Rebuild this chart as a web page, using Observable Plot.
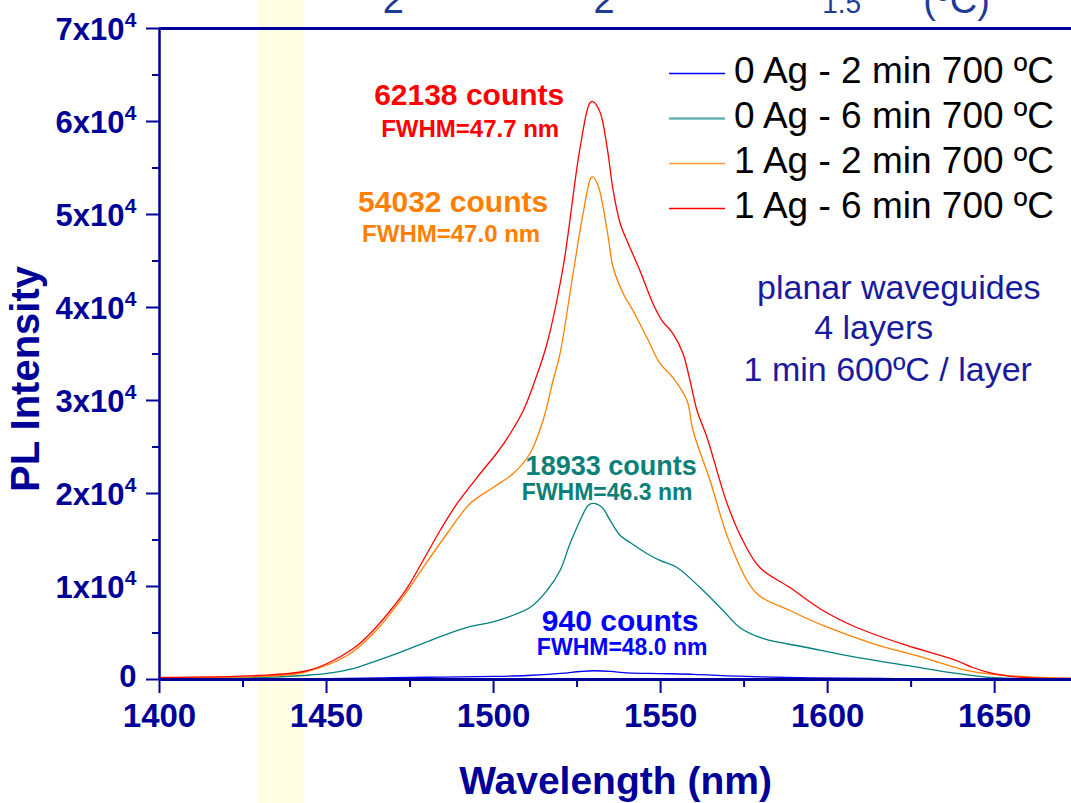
<!DOCTYPE html>
<html>
<head>
<meta charset="utf-8">
<script src="https://cdn.jsdelivr.net/npm/d3@7"></script>
<script src="https://cdn.jsdelivr.net/npm/@observablehq/plot@0.6"></script>
<style>
  html, body { margin: 0; padding: 0; background: #fff; }
  #chart svg { display: block; }
</style>
</head>
<body>
<div id="chart"></div>
<script>
// ---------------- data ----------------
const seriesNames = ["0 Ag - 2 min 700 ºC", "0 Ag - 6 min 700 ºC", "1 Ag - 2 min 700 ºC", "1 Ag - 6 min 700 ºC"];

// 0 Ag - 2 min (blue)
const wl0Ag2 = [1400,1450,1470,1485,1500,1510,1520,1526,1530,1535,1540,1550,1560,1570,1580,1595,1620,1650,1673];
const pl0Ag2 = [30,100,200,260,330,430,650,860,940,870,720,640,560,400,280,160,100,50,30];

// 0 Ag - 6 min (teal)
const wl0Ag6 = [1400,1429.6,1443.1,1450.2,1458.0,1461.0,1471.2,1481.0,1490.9,1501.1,1510.9,1516.0,1519.9,1522.9,1525.9,1528.3,1529.8,1532.5,1534.9,1537.9,1540.9,1545.9,1549.8,1554.9,1561.8,1568.7,1573.7,1580.6,1593.8,1608.7,1623.7,1638.6,1648.5,1658.4,1672.7];
const pl0Ag6 = [100,200,430,650,1180,1510,2800,4190,5480,6340,7740,9570,11720,14620,17100,18710,18933,18500,17100,15480,14730,13550,12800,12040,9890,7420,5590,4410,3440,2370,1510,650,215,110,50];

// 1 Ag - 2 min (orange)
const wl1Ag2 = [1400,1429.6,1436.2,1443.1,1456.2,1464.0,1472.1,1478.9,1486.1,1493.0,1499.9,1505.9,1510.9,1514.8,1517.8,1519.9,1523.8,1526.8,1529.2,1529.8,1531.3,1534.0,1535.8,1538.8,1541.7,1545.9,1549.8,1553.7,1557.9,1559.7,1564.8,1570.8,1578.8,1588.7,1598.6,1613.5,1628.5,1641.6,1649.4,1663.5,1672.7];
const pl1Ag2 = [200,320,430,750,2580,4950,8490,12040,15700,18930,20650,22150,24300,27850,32150,35050,43660,50110,53980,54032,53120,48280,44300,41510,39680,36770,33980,32470,30000,26770,21400,14620,9250,7420,5810,3870,2370,970,540,215,110];

// 1 Ag - 6 min (red)
const wl1Ag6 = [1400,1429.6,1443.1,1450.2,1458.0,1463.1,1469.1,1474.2,1478.9,1484.0,1489.1,1496.0,1501.1,1505.0,1508.9,1512.4,1516.0,1520.8,1525.9,1528.9,1529.8,1531.9,1534.0,1535.8,1537.9,1540.3,1543.8,1547.7,1550.4,1553.7,1556.7,1558.8,1560.9,1563.9,1569.9,1574.6,1579.7,1588.7,1598.6,1608.7,1623.7,1638.6,1643.4,1649.4,1658.4,1672.7];
const pl1Ag6 = [215,430,860,1720,3330,4950,7420,9890,12800,16020,18930,22150,24410,26450,28930,32150,36130,44300,57200,62040,62138,60970,57200,52580,49030,46880,43980,40430,38600,37200,35050,32150,28930,26020,18930,14950,12040,9890,7420,5590,3660,2040,1290,650,215,110];

// peak annotations
const annText = ["62138 counts","FWHM=47.7 nm","54032 counts","FWHM=47.0 nm","18933 counts","FWHM=46.3 nm","940 counts","FWHM=48.0 nm"];
const annX = [1492.7,1493.0,1487.9,1487.3,1535.2,1534.0,1537.9,1538.5];
const annY = [62850,59190,51290,47900,22900,20050,6300,3400];

// sample description
const noteText = ["planar waveguides","4 layers","1 min 600ºC / layer"];
const noteX = [1621.3,1613.8,1618.0];
const noteY = [42040,37740,33230];

// partially visible title fragments above the frame
const topText = ["2","2","1.5","(ºC)"];
const topX = [1470.0,1533.1,1604.2,1638.6];

// highlighted band (nm)
const bandRange = [1429.6, 1443.4];

// ticks
const xMajor = [1400,1450,1500,1550,1600,1650];
const xMinor = [1425,1475,1525,1575,1625];
const yMajor = [0,10000,20000,30000,40000,50000,60000,70000];
const yMinor = [5000,15000,25000,35000,45000,55000,65000];

// ---------------- styles ----------------
const NAVY = "#000099";
const FONT = "'Liberation Sans', Arial, Helvetica, sans-serif";
const seriesColors = ["#0000ff", "#008080", "#ff8000", "#ff0000"];
const legendColors = ["#0000ff", "#66b3b3", "#ff9933", "#ff0000"];
const legendWidths = [1.6, 2.4, 1.5, 1.5];
const annColors = ["#ff0000","#ff0000","#ff8000","#ff8000","#0b8078","#0b8078","#0000ff","#0000ff"];
const annSizes = [30,24,30,24,27,23,30,23];
const topSizes = [38,38,28,38];

const seriesData = [
  [wl0Ag2, pl0Ag2], [wl0Ag6, pl0Ag6], [wl1Ag2, pl1Ag2], [wl1Ag6, pl1Ag6]
].map(([w, p], i) => w.map((x, j) => ({x, y: p[j], series: seriesNames[i]})));

const marks = [];

// yellow band spanning the whole picture height
marks.push(Plot.barX([bandRange], {x1: d => d[0], x2: d => d[1], fill: "#fffde3", insetTop: -28, insetBottom: -124}));

// minor & major ticks
marks.push(Plot.axisX({ticks: xMinor, tickSize: 8, tickFormat: () => "", stroke: NAVY, strokeWidth: 2, label: null}));
marks.push(Plot.axisX({ticks: xMajor, tickSize: 14, tickPadding: 10, tickFormat: d => String(d), fontSize: 33, fontWeight: "bold", color: NAVY, strokeWidth: 2, label: null, fontFamily: FONT}));
marks.push(Plot.axisY({ticks: yMinor, tickSize: 7, tickFormat: () => "", stroke: NAVY, strokeWidth: 2, label: null}));
marks.push(Plot.axisY({ticks: yMajor, tickSize: 13, tickFormat: () => "", stroke: NAVY, strokeWidth: 2, label: null}));

// y tick labels "Nx10^4"
const yLab = yMajor.filter(v => v > 0);
marks.push(Plot.text(yLab, {frameAnchor: "left", y: d => d, text: d => `${d / 10000}x10`, textAnchor: "end", dx: -35, dy: 2, fontSize: 31, fontWeight: "bold", fill: NAVY, fontFamily: FONT}));
marks.push(Plot.text(yLab, {frameAnchor: "left", y: d => d, text: () => "4", textAnchor: "end", dx: -23, dy: -8, fontSize: 21, fontWeight: "bold", fill: NAVY, fontFamily: FONT}));
marks.push(Plot.text([0], {frameAnchor: "left", y: d => d, text: () => "0", textAnchor: "end", dx: -23, dy: -2, fontSize: 31, fontWeight: "bold", fill: NAVY, fontFamily: FONT}));

// curves
seriesData.forEach((d, i) => {
  marks.push(Plot.line(d, {x: "x", y: "y", stroke: seriesColors[i], strokeWidth: 1.3, curve: "catmull-rom"}));
});

// axis lines
marks.push(Plot.ruleX([1400], {stroke: NAVY, strokeWidth: 2.5}));
marks.push(Plot.ruleY([0], {stroke: NAVY, strokeWidth: 3}));
marks.push(Plot.ruleY([70000], {stroke: NAVY, strokeWidth: 3}));

// axis titles
marks.push(Plot.text(["Wavelength (nm)"], {frameAnchor: "bottom", lineAnchor: "bottom", dy: 114, fontSize: 39, fontWeight: "bold", fill: NAVY, fontFamily: FONT}));
marks.push(Plot.text(["PL Intensity"], {frameAnchor: "left", rotate: -90, textAnchor: "middle", lineAnchor: "middle", dx: -133, dy: 25, fontSize: 40, fontWeight: "bold", fill: NAVY, fontFamily: FONT}));

// legend (inside the frame)
seriesNames.forEach((name, i) => {
  const ly = 65160 - i * 4840;
  marks.push(Plot.link([name], {x1: () => 1552.5, x2: () => 1569.3, y1: () => ly, y2: () => ly, stroke: legendColors[i], strokeWidth: legendWidths[i]}));
  marks.push(Plot.text([name], {x: () => 1572.0, y: () => ly, text: d => d, textAnchor: "start", lineAnchor: "middle", dy: -2, fontSize: 37, fill: "#000", fontFamily: FONT}));
});

// peak annotations
annText.forEach((t, i) => {
  marks.push(Plot.text([t], {x: () => annX[i], y: () => annY[i], text: d => d, lineAnchor: "middle", fontSize: annSizes[i], fontWeight: "bold", fill: annColors[i], fontFamily: FONT}));
});

// sample note
noteText.forEach((t, i) => {
  marks.push(Plot.text([t], {x: () => noteX[i], y: () => noteY[i], text: d => d, lineAnchor: "middle", fontSize: 34, fill: "#1a1a9e", fontFamily: FONT}));
});

// clipped title fragments
topText.forEach((t, i) => {
  marks.push(Plot.text([t], {x: () => topX[i], frameAnchor: "top", text: d => d, lineAnchor: "bottom", dy: -16, fontSize: topSizes[i], fill: "#1f3c94", fontFamily: FONT}));
});

const chart = Plot.plot({
  width: 1071,
  height: 803,
  marginLeft: 159,
  marginRight: 0,
  marginTop: 28,
  marginBottom: 124,
  x: {domain: [1400, 1673]},
  y: {domain: [0, 70000]},
  style: {fontFamily: FONT, background: "#fff", overflow: "visible"},
  marks
});
document.getElementById("chart").appendChild(chart);
</script>
</body>
</html>
